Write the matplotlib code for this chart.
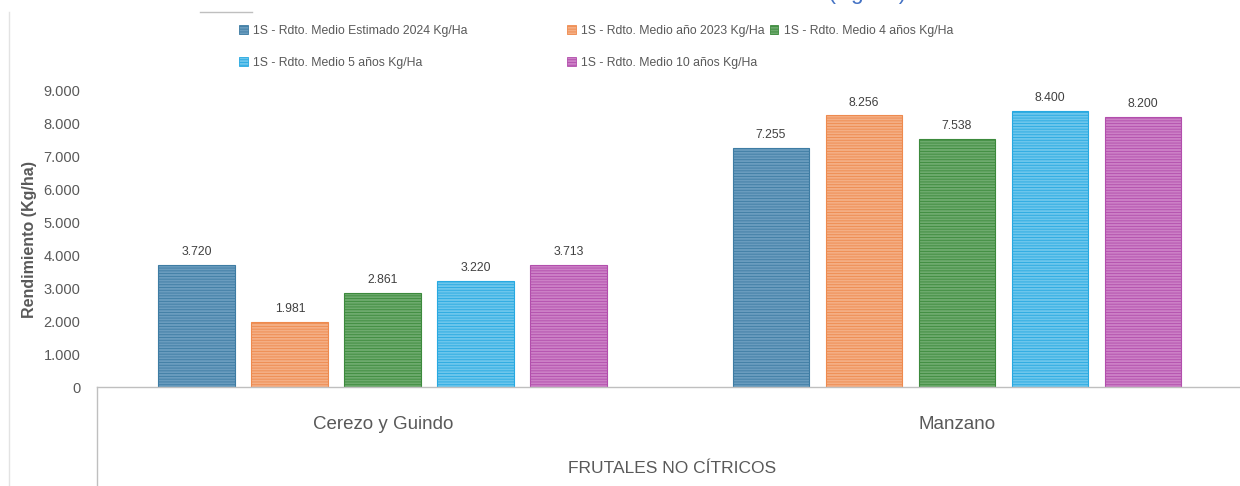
import matplotlib
matplotlib.use("Agg")
import matplotlib.pyplot as plt
from matplotlib.patches import Patch
from matplotlib.lines import Line2D
import numpy as np

# ---- data ----
categories = ["Cerezo y Guindo", "Manzano"]
series_names = [
    "1S - Rdto. Medio Estimado 2024 Kg/Ha",
    "1S - Rdto. Medio año 2023 Kg/Ha",
    "1S - Rdto. Medio 4 años Kg/Ha",
    "1S - Rdto. Medio 5 años Kg/Ha",
    "1S - Rdto. Medio 10 años Kg/Ha",
]
rdto_2024 = [3720, 7255]
rdto_2023 = [1981, 8256]
rdto_4anos = [2861, 7538]
rdto_5anos = [3220, 8400]
rdto_10anos = [3713, 8200]
yticks = [0, 1000, 2000, 3000, 4000, 5000, 6000, 7000, 8000, 9000]

title = "Gráfico N° 12: Serie histórica de rendimientos en Frutales no Cítricos en Secano (Kg/Ha)"
group_label = "FRUTALES NO CÍTRICOS"
ylabel = "Rendimiento (Kg/ha)"

faces = ["#6A9CBE", "#F4AE84", "#6DAA6D", "#6CC6EC", "#CC80C6"]
edges = ["#3E7CA3", "#EE8A4E", "#3C8A3C", "#27A9E1", "#B24EAC"]

FONT = ["Liberation Sans", "DejaVu Sans"]
plt.rcParams["hatch.linewidth"] = 0.6


def fmt(v):
    return f"{v:,}".replace(",", ".")


W, H = 1240, 486
fig = plt.figure(figsize=(W / 100, H / 100), dpi=100)
ax = fig.add_axes([97 / W, 99 / H, 1143 / W, 296 / H])

all_series = [rdto_2024, rdto_2023, rdto_4anos, rdto_5anos, rdto_10anos]
x = np.arange(len(categories))
pitch = 0.162
width = 0.134
handles = []
for i, vals in enumerate(all_series):
    pos = x + (i - 2) * pitch
    bars = ax.bar(pos, vals, width, color=faces[i], edgecolor=edges[i],
                  linewidth=0.8, hatch="------")
    for b, v in zip(bars, vals):
        ax.annotate(fmt(v), (b.get_x() + b.get_width() / 2, v),
                    xytext=(0, 5), textcoords="offset points",
                    ha="center", va="bottom", fontsize=8.8,
                    color="#404040", family=FONT)
    handles.append(Patch(facecolor=faces[i], edgecolor=edges[i],
                         hatch="------", linewidth=0.6))

ax.set_xlim(-0.498, 1.493)
ax.set_ylim(0, 9000)
ax.set_yticks(yticks)
ax.set_yticklabels([fmt(t) for t in yticks], family=FONT,
                   fontsize=10.5, color="#595959")
ax.set_xticks(x)
ax.set_xticklabels(categories, family=FONT, fontsize=13.5, color="#595959")
ax.tick_params(axis="y", length=0, pad=12)
ax.tick_params(axis="x", length=0, pad=21)
for s in ["top", "right", "left"]:
    ax.spines[s].set_visible(False)
ax.spines["bottom"].set_color("#BFBFBF")
ax.spines["bottom"].set_linewidth(1.0)

ax.set_ylabel(ylabel, fontsize=11.5, fontweight="bold", color="#595959",
              family=FONT)
ax.yaxis.set_label_coords(-60 / 1143, 0.5)

fig.text(672 / W, (H - 468) / H, group_label, ha="center", va="center",
         fontsize=12.5, color="#595959", family=FONT)

# category box line and chart border
fig.add_artist(Line2D([97 / W, 97 / W], [0, 99 / H], color="#BFBFBF", lw=1.0))
fig.add_artist(Line2D([9 / W, 9 / W], [0, (H - 12) / H], color="#E3E3E3", lw=1.0))
fig.add_artist(Line2D([200 / W, 252 / W], [(H - 12) / H] * 2, color="#BFBFBF", lw=1.0))

# title, cut off at the top of the picture as in the source
fig.text(17 / W, 1 + 1.5 / H, title, ha="left", va="baseline",
         fontsize=16.2, color="#4472C4", family=FONT)

# legends
leg_kw = dict(frameon=False, handlelength=0.7, handleheight=0.7,
              handletextpad=0.45, labelspacing=1.6, borderpad=0, borderaxespad=0,
              labelcolor="#595959", prop={"family": FONT, "size": 8.8})
fig.legend([handles[0], handles[3]], [series_names[0], series_names[3]],
           loc="upper left", bbox_to_anchor=(239 / W, 1 - 25 / H), ncol=1, **leg_kw)
fig.legend([handles[1], handles[4], handles[2]],
           [series_names[1], series_names[4], series_names[2]],
           loc="upper left", bbox_to_anchor=(567 / W, 1 - 25 / H), ncol=2,
           columnspacing=0.4, **leg_kw)

fig.savefig("out.png", dpi=100)
